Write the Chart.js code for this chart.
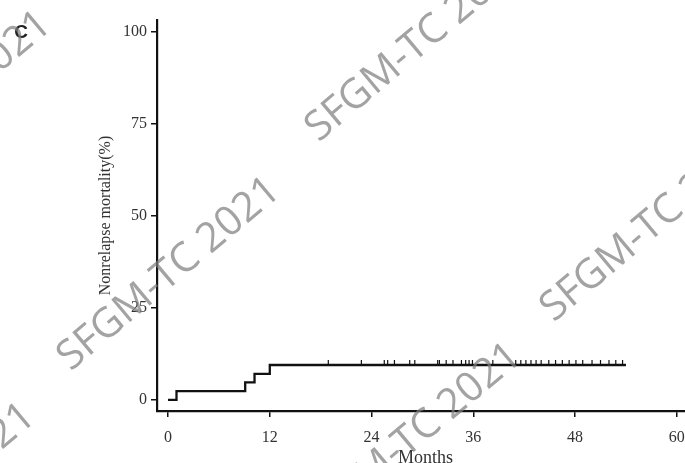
<!DOCTYPE html>
<html>
<head>
<meta charset="utf-8">
<script src="https://cdn.jsdelivr.net/npm/chart.js@4.4.1/dist/chart.umd.min.js"></script>
<style>
  html, body { margin: 0; padding: 0; background: #fff; overflow: hidden; width: 685px; height: 463px; }
  #c { display: block; }
</style>
</head>
<body>
<canvas id="c" width="700" height="475"></canvas>
<script>
// ---- data ----
const eventMonths = [0, 1.0, 9.1, 10.2, 12.0, 54.0];
const nrmPercent  = [0, 2.4, 4.8, 7.1, 9.5, 9.5];
const censorMonths = [18.9, 22.8, 25.5, 25.9, 26.7, 28.5, 29.1, 31.8, 32.0, 32.8, 33.6, 34.6,
  35.1, 35.5, 35.9, 38.3, 41.0, 41.6, 42.2, 42.8, 43.4, 44.0, 44.9, 45.7, 46.5, 47.3, 48.1,
  48.9, 50.0, 51.0, 52.0, 52.8, 53.6];
const censorLevel = 9.5;
const xTickValues = [0, 12, 24, 36, 48, 60];
const yTickValues = [0, 25, 50, 75, 100];
const xTitle = 'Months';
const yTitle = 'Nonrelapse mortality(%)';
const panelLabel = 'C';
const watermarkText = 'SFGM-TC 2021';

const curve = eventMonths.map((m, i) => ({ x: m, y: nrmPercent[i] }));
const censors = censorMonths.map(m => ({ x: m, y: censorLevel }));

const serif = '"Liberation Serif", "DejaVu Serif", serif';

const overlay = {
  id: 'overlay',
  afterDraw(chart) {
    const ctx = chart.ctx;
    ctx.save();
    // panel label
    ctx.fillStyle = '#222';
    ctx.font = 'bold 19px "Liberation Sans", sans-serif';
    ctx.textAlign = 'center';
    ctx.textBaseline = 'middle';
    ctx.fillText(panelLabel, 21, 33);
    // watermarks
    const spots = [[169, 274], [417, 45], [410, 440], [652, 225], [-60, 108], [-76, 500]];
    ctx.font = '41px "Open Sans", sans-serif';
    ctx.fillStyle = 'rgba(128,128,128,0.72)';
    for (const [x, y] of spots) {
      ctx.save();
      ctx.translate(x, y);
      ctx.rotate(-40 * Math.PI / 180);
      ctx.fillText(watermarkText, 0, 0);
      ctx.restore();
    }
    ctx.restore();
  }
};

new Chart(document.getElementById('c'), {
  type: 'scatter',
  data: {
    datasets: [
      {
        type: 'line',
        data: curve,
        stepped: 'before',
        borderColor: '#111',
        borderWidth: 2.3,
        pointRadius: 0,
        fill: false
      },
      {
        type: 'scatter',
        data: censors,
        pointStyle: 'dash',
        rotation: -90,
        pointRadius: 5,
        borderColor: '#111',
        borderWidth: 1.2,
        backgroundColor: '#111'
      }
    ]
  },
  plugins: [overlay],
  options: {
    responsive: false,
    animation: false,
    events: [],
    layout: { padding: { top: 20, left: 0, right: 5, bottom: 0 } },
    plugins: { legend: { display: false }, tooltip: { enabled: false } },
    scales: {
      x: {
        type: 'linear',
        min: -1.3,
        max: 62,
        afterBuildTicks: s => { s.ticks = xTickValues.map(v => ({ value: v })); },
        afterFit: s => { s.height = 64; },
        grid: { drawOnChartArea: false, drawTicks: true, tickLength: 6, color: '#111', lineWidth: 1.5 },
        border: { display: true, color: '#111', width: 2.2 },
        ticks: { color: '#333', padding: 11, font: { family: serif, size: 16 }, maxRotation: 0 },
        title: { display: true, text: xTitle, color: '#333', font: { family: serif, size: 18 }, padding: { top: 0, bottom: 6 } }
      },
      y: {
        type: 'linear',
        min: -3,
        max: 103.2,
        afterBuildTicks: s => { s.ticks = yTickValues.map(v => ({ value: v })); },
        afterFit: s => { s.width = 157; },
        grid: { drawOnChartArea: false, drawTicks: true, tickLength: 6, color: '#111', lineWidth: 1.5 },
        border: { display: true, color: '#111', width: 2.2 },
        ticks: { color: '#333', padding: 4, font: { family: serif, size: 16 } },
        title: { display: true, text: yTitle, color: '#333', font: { family: serif, size: 16 }, padding: { top: 96, bottom: 0 } }
      }
    }
  }
});
</script>
</body>
</html>
